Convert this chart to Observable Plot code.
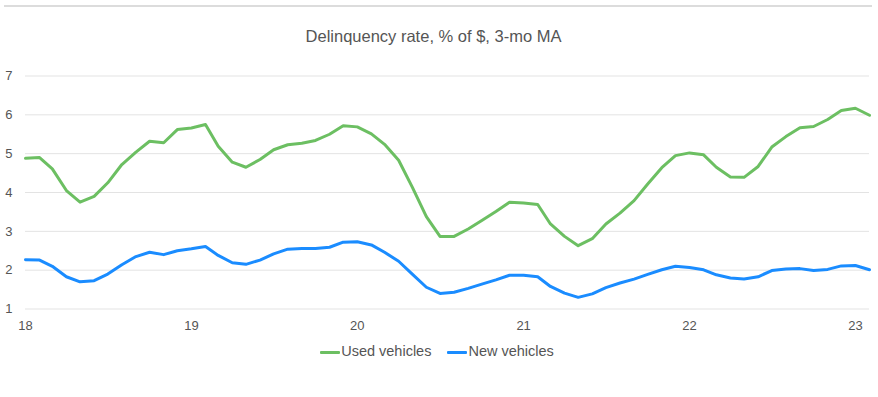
<!DOCTYPE html>
<html>
<head>
<meta charset="utf-8">
<script src="https://cdn.jsdelivr.net/npm/d3@7"></script>
<script src="https://cdn.jsdelivr.net/npm/@observablehq/plot@0.6"></script>
<style>
  body { margin: 0; background: #fff; font-family: "Liberation Sans", Arial, Helvetica, sans-serif; }
  #wrap { width: 878px; position: relative; }
  #head { height: 60px; position: relative; }
  #rule { position: absolute; left: 4px; top: 5px; width: 868px; height: 2px; background: #dcdcdc; }
  #title { position: absolute; left: 0; width: 867px; top: 27px; text-align: center; font-size: 16.5px; color: #555; }
  #legend { height: 24px; line-height: 24px; text-align: center; font-size: 14.5px; color: #555; padding-right: 4px; }
  .sw { display: inline-block; width: 20px; height: 3px; vertical-align: middle; margin-right: 1px; border-radius: 1px; }
  .item { display: inline-block; margin: 0 8px; }
  svg { display: block; }
</style>
</head>
<body>
<div id="wrap">
  <div id="head"><div id="rule"></div><div id="title"></div></div>
  <div id="chart"></div>
  <div id="legend"></div>
</div>
<script>
const title = "Delinquency rate, % of $, 3-mo MA";
const seriesNames = ["Used vehicles", "New vehicles"];
const seriesColors = ["#6cbf62", "#1a8cff"];
const startYear = 2018;
const startMonth = 0; // January
const usedVehicles = [
  4.88, 4.90, 4.61, 4.05, 3.75, 3.90, 4.25, 4.72, 5.04, 5.32, 5.28, 5.62,
  5.66, 5.75, 5.19, 4.78, 4.65, 4.85, 5.10, 5.23, 5.27, 5.34, 5.50, 5.72,
  5.69, 5.51, 5.24, 4.83, 4.14, 3.38, 2.87, 2.87, 3.06, 3.28, 3.51, 3.75,
  3.73, 3.69, 3.19, 2.87, 2.63, 2.81, 3.19, 3.47, 3.79, 4.22, 4.64, 4.95,
  5.02, 4.97, 4.65, 4.40, 4.39, 4.67, 5.17, 5.44, 5.67, 5.70, 5.88, 6.11,
  6.17, 5.99
];
const newVehicles = [
  2.27, 2.26, 2.10, 1.83, 1.70, 1.73, 1.90, 2.14, 2.35, 2.46, 2.40, 2.50,
  2.55, 2.61, 2.38, 2.19, 2.15, 2.26, 2.42, 2.54, 2.56, 2.56, 2.59, 2.72,
  2.73, 2.65, 2.46, 2.23, 1.90, 1.56, 1.40, 1.43, 1.53, 1.64, 1.75, 1.87,
  1.87, 1.83, 1.58, 1.41, 1.30, 1.39, 1.55, 1.67, 1.77, 1.89, 2.01, 2.10,
  2.07, 2.01, 1.88, 1.80, 1.77, 1.83, 1.99, 2.03, 2.04, 1.99, 2.02, 2.11,
  2.12, 2.01
];
const yTicks = [1, 2, 3, 4, 5, 6, 7];
const xTickYears = [2018, 2019, 2020, 2021, 2022, 2023];

const monthDate = i => new Date(Date.UTC(startYear, startMonth + i, 1));
const rows = [];
[usedVehicles, newVehicles].forEach((arr, s) => {
  arr.forEach((v, i) => rows.push({date: monthDate(i), value: v, series: seriesNames[s]}));
});
const xTicks = xTickYears.map(y => new Date(Date.UTC(y, 0, 1)));
const xFmt = d => String(d.getUTCFullYear() % 100);
const yFmt = d => String(Math.round(d));

document.getElementById("title").textContent = title;

const chart = Plot.plot({
  width: 878,
  height: 279,
  marginTop: 15.5,
  marginBottom: 30.5,
  marginLeft: 25,
  marginRight: 9,
  style: {fontFamily: "'Liberation Sans', Arial, Helvetica, sans-serif", fontSize: "13px", color: "#555", background: "#fff"},
  x: {type: "utc", domain: [monthDate(0), monthDate(usedVehicles.length - 1)], label: null},
  y: {domain: [1, 7], label: null},
  color: {domain: seriesNames, range: seriesColors},
  marks: [
    Plot.gridY(yTicks, {stroke: "#e3e3e3", strokeOpacity: 1, strokeWidth: 1}),
    Plot.axisY(yTicks, {tickFormat: yFmt, tickSize: 0, tickPadding: 13, label: null, fill: "#555"}),
    Plot.axisX(xTicks, {tickFormat: xFmt, tickSize: 0, tickPadding: 12, label: null, fill: "#555"}),
    Plot.lineY(rows, {x: "date", y: "value", z: "series", stroke: "series", strokeWidth: 3, strokeLinejoin: "round", strokeLinecap: "round"})
  ]
});
document.getElementById("chart").appendChild(chart);

const legend = document.getElementById("legend");
seriesNames.forEach((name, i) => {
  const item = document.createElement("span");
  item.className = "item";
  const sw = document.createElement("span");
  sw.className = "sw";
  sw.style.background = seriesColors[i];
  item.appendChild(sw);
  item.appendChild(document.createTextNode(name));
  legend.appendChild(item);
});
</script>
</body>
</html>
